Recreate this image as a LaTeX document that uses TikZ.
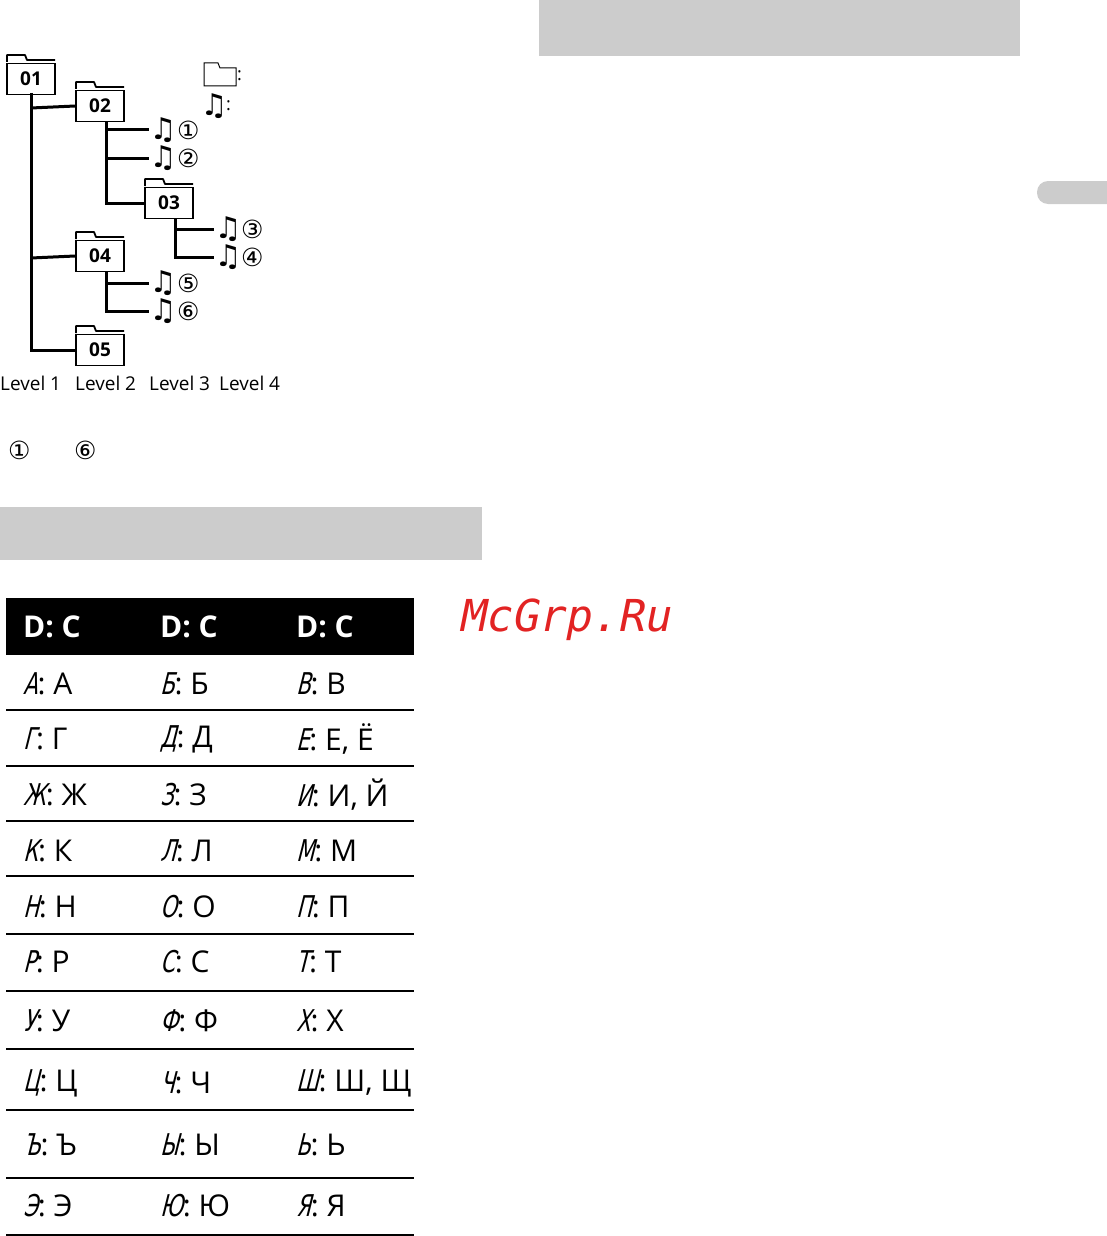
\documentclass[tikz,border=0pt]{standalone}
\usepackage{fontspec}
\setmainfont{Open Sans}
\newfontfamily\symfont{DejaVu Sans}
\newfontfamily\segfont[FakeSlant=0.25,FakeStretch=0.7]{DejaVu Sans}
\newfontfamily\logofont[FakeSlant=0.2]{DejaVu Sans Mono}
\usetikzlibrary{positioning}
\definecolor{panelgray}{RGB}{204,204,204}
\definecolor{logored}{RGB}{226,35,35}

% Ordner mit Reiter
\newcommand{\folder}[4]{%
  \draw[line width=1.8pt, line join=round] (#2,#3) -- ++(0,-7) -- ++(18,0) -- ++(2,5) -- ++(28,0);
  \node[foldbox] (#1) at (#2+24,#3+17) {#4};}

\begin{document}
\begin{tikzpicture}[x=1pt,y=-1pt]
  \tikzset{
    foldbox/.style={draw, line width=1.8pt, minimum width=48pt, minimum height=31pt,
      inner sep=0pt, font=\bfseries\fontsize{19}{19}\selectfont, text depth=0pt},
    branch/.style={line width=3pt},
    song/.style={font=\symfont\bfseries\fontsize{30}{30}\selectfont, inner sep=0pt},
    numlbl/.style={font=\symfont\fontsize{25}{25}\selectfont, inner sep=0pt, anchor=west},
    lvl/.style={font=\fontsize{19}{19}\selectfont, anchor=west, inner sep=0pt},
    hdr/.style={font=\bfseries\fontsize{30}{30}\selectfont, text=white, anchor=west, inner sep=0pt},
    cell/.style={font=\fontsize{30}{30}\selectfont, anchor=west, inner sep=0pt},
    rowline/.style={line width=2.5pt}
  }
  \useasboundingbox (0,0) rectangle (1107,1236);

  % Graue Felder
  \fill[panelgray] (539,0) rectangle (1020,56);
  \fill[panelgray] (0,507) rectangle (482,560);
  \fill[panelgray, rounded corners=11pt] (1037,181) rectangle (1120,204);

  % Ordnerbaum
  \folder{f01}{7}{62}{01}
  \folder{f02}{76}{89}{02}
  \folder{f03}{145}{186}{03}
  \folder{f04}{76}{239}{04}
  \folder{f05}{76}{333}{05}

  \node[song] (s1) at (163,130) {♫};
  \node[song] (s2) at (163,158) {♫};
  \node[song] (s3) at (228,229) {♫};
  \node[song] (s4) at (228,257) {♫};
  \node[song] (s5) at (163,283) {♫};
  \node[song] (s6) at (163,311) {♫};
  \node[numlbl] at (177,130) {①};
  \node[numlbl] at (177,158) {②};
  \node[numlbl] at (241,229) {③};
  \node[numlbl] at (241,257) {④};
  \node[numlbl] at (177,283) {⑤};
  \node[numlbl] at (177,311) {⑥};

  \draw[branch] (31,93) |- (f05.west);
  \draw[branch] (31,108) -- (f02.west);
  \draw[branch] (31,258) -- (f04.west);
  \draw[branch] ([xshift=6pt]f02.south) |- (f03.west);
  \draw[branch] (106,130) -- (s1.west);
  \draw[branch] (106,158) -- (s2.west);
  \draw[branch] ([xshift=6pt]f03.south) |- (s4.west);
  \draw[branch] (175,229) -- (s3.west);
  \draw[branch] ([xshift=6pt]f04.south) |- (s6.west);
  \draw[branch] (106,283) -- (s5.west);

  % Legende
  \draw[line width=1pt] (204,86) -- (204,63) -- (218,63) -- (220,68) -- (236,68) -- (236,86) -- cycle;
  \node[font=\fontsize{18}{18}\selectfont, anchor=west, inner sep=0pt] at (237,76) {:};
  \node[song] (slegend) at (214,106) {♫};
  \node[font=\fontsize{18}{18}\selectfont, anchor=west, inner sep=0pt] at (226,106) {:};

  \node[lvl] at (0,383) {Level 1};
  \node[lvl] at (75,383) {Level 2};
  \node[lvl] at (149,383) {Level 3};
  \node[lvl] at (219,383) {Level 4};
  \node[numlbl] at (8,450) {①};
  \node[numlbl] at (74,450) {⑥};

  % Tabelle
  \fill[black] (6,598) rectangle (414,655);
  \foreach \cx in {23,160,296}
    \node[hdr] at (\cx,627) {D: C};
  \foreach \ly in {710,766,821,876,934,991,1049,1110,1178,1235}
    \draw[rowline] (6,\ly) -- (414,\ly);
  \foreach \ry/\a/\b/\d/\c in {684/А/Б/В/В, 739/Г/Д/Е/{Е, Ё}, 795/Ж/З/И/{И, Й}, 851/К/Л/М/М,
      907/Н/О/П/П, 962/Р/С/Т/Т, 1021/У/Ф/Х/Х, 1083/Ц/Ч/Ш/{Ш, Щ}, 1145/Ъ/Ы/Ь/Ь, 1206/Э/Ю/Я/Я}{
    \node[cell] at (23,\ry) {{\segfont\a}: \a};
    \node[cell] at (160,\ry) {{\segfont\b}: \b};
    \node[cell] at (296,\ry) {{\segfont\d}: \c};
  }

  % Logo
  \node[font=\logofont\fontsize{44}{44}\selectfont, text=logored, anchor=west, inner sep=0pt] at (458,620) {McGrp.Ru};
\end{tikzpicture}
\end{document}
